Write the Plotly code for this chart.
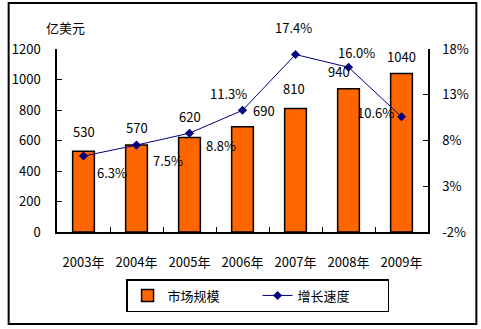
import plotly.graph_objects as go

years = ["2003年", "2004年", "2005年", "2006年", "2007年", "2008年", "2009年"]
market = [530, 570, 620, 690, 810, 940, 1040]
growth = [6.3, 7.5, 8.8, 11.3, 17.4, 16.0, 10.6]
growth_labels = ["6.3%", "7.5%", "8.8%", "11.3%", "17.4%", "16.0%", "10.6%"]
left_ticks = [0, 200, 400, 600, 800, 1000, 1200]
right_ticks = [-2, 3, 8, 13, 18]

# label offsets (style only)
bar_lbl_off = [(0, 20), (0, 18), (0, 21), (21, 16), (-2, 20), (-10, 17), (0, 17)]
line_lbl_off = [(28, -16), (31, -15), (31, -12), (-14, 17), (-2, 27), (8, 15), (-26, 4)]

FONT = "Liberation Sans Narrow, Noto Sans CJK SC, sans-serif"
W, H = 481, 329
L, R, T, B = 52, 53, 49, 97

fig = go.Figure()
fig.add_trace(go.Bar(
    x=years, y=market, name="市场规模",
    marker=dict(color="#FF6600", line=dict(color="black", width=1.5)),
))
fig.add_trace(go.Scatter(
    x=years, y=growth, name="增长速度", yaxis="y2", mode="lines+markers",
    line=dict(color="#000080", width=1),
    marker=dict(symbol="diamond", size=7, color="#000080"),
))

ann = []
for yr, v, (dx, dy) in zip(years, market, bar_lbl_off):
    ann.append(dict(x=yr, y=v, xref="x", yref="y", text=str(v), showarrow=False,
                    xanchor="center", yanchor="middle",
                    xshift=dx, yshift=dy, font=dict(size=13, color="black", family=FONT)))
for yr, v, t, (dx, dy) in zip(years, growth, growth_labels, line_lbl_off):
    ann.append(dict(x=yr, y=v, xref="x", yref="y2", text=t, showarrow=False,
                    xanchor="center", yanchor="middle",
                    xshift=dx, yshift=dy, font=dict(size=13, color="black", family=FONT)))

pw = W - L - R
ph = H - T - B
def px2x(p):
    return (p - L) / pw
def px2y(p):
    return (H - B - p) / ph

ann.append(dict(x=px2x(61), y=px2y(27), xref="paper", yref="paper", text="亿美元",
                xanchor="center", yanchor="middle",
                showarrow=False, font=dict(size=13, color="black", family=FONT)))

fig.update_layout(
    width=W, height=H,
    margin=dict(l=L, r=R, t=T, b=B),
    paper_bgcolor="white", plot_bgcolor="white",
    bargap=0.59,
    font=dict(family=FONT, size=13, color="black"),
    showlegend=True,
    legend=dict(orientation="h", x=px2x(122), y=px2y(279), xanchor="left", yanchor="top",
                bordercolor="black", borderwidth=1.5, bgcolor="white",
                itemwidth=30, entrywidth=85, entrywidthmode="pixels",
                font=dict(size=13, family=FONT)),
    xaxis=dict(type="category", showline=True, linecolor="black", linewidth=1.5,
               ticks="inside", tickson="boundaries", ticklen=5, tickcolor="black",
               ticklabelstandoff=18, showgrid=False),
    yaxis=dict(range=[0, 1200], tickvals=left_ticks, showline=True, linecolor="black",
               linewidth=1.5, ticks="inside", ticklen=5, tickcolor="black",
               ticklabelstandoff=12, showgrid=False, zeroline=False),
    yaxis2=dict(range=[-2, 18], tickvals=right_ticks, ticktext=[f"{v}%" for v in right_ticks],
                overlaying="y", side="right", showline=True, linecolor="black",
                linewidth=1.5, ticks="inside", ticklen=5, tickcolor="black",
                ticklabelstandoff=10, showgrid=False, zeroline=False),
    annotations=ann,
    shapes=[dict(type="rect", xref="paper", yref="paper",
                 x0=px2x(3), x1=px2x(477), y0=px2y(3), y1=px2y(324),
                 line=dict(color="black", width=2))],
)

fig.write_html("out.html")
